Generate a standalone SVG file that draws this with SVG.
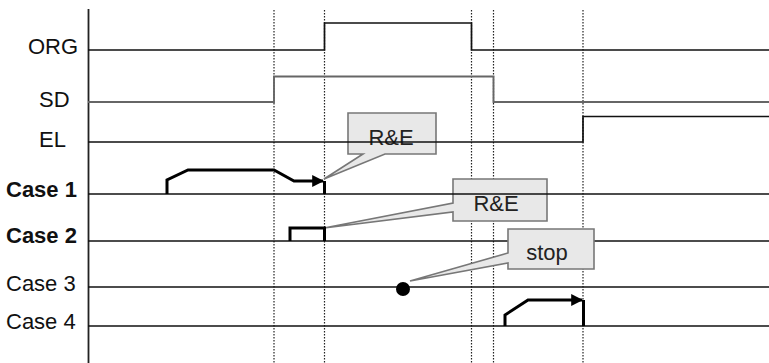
<svg xmlns="http://www.w3.org/2000/svg" width="769" height="363" viewBox="0 0 769 363">
<style>
.lbl{font-family:"Liberation Sans",Arial,sans-serif;font-size:22px;fill:#111}
.b{font-weight:bold}
.sig{fill:none;stroke:#111;stroke-width:1.7}
.sd{fill:none;stroke:#666;stroke-width:1.9}
.dot{stroke:#222;stroke-width:1.2;stroke-dasharray:1.5,1.5}
.wave{fill:none;stroke:#000;stroke-width:3;stroke-linejoin:miter}
.call{fill:#e8e8e8;stroke:#777;stroke-width:1.6}
.ct{font-family:"Liberation Sans",Arial,sans-serif;font-size:22px;fill:#222;text-anchor:middle}
</style>
<defs>
<marker id="ah" viewBox="0 0 10 10" refX="9" refY="5" markerWidth="4" markerHeight="4" orient="auto" markerUnits="strokeWidth">
<path d="M0,0 L10,5 L0,10 Z" fill="#000"/>
</marker>
</defs>
<rect width="769" height="363" fill="#fff"/>
<g id="grid">
<line x1="88.5" y1="9" x2="88.5" y2="363" stroke="#222" stroke-width="1.8"/>
<line class="dot" x1="274" y1="10" x2="274" y2="363"/>
<line class="dot" x1="324.5" y1="10" x2="324.5" y2="363"/>
<line class="dot" x1="471.5" y1="10" x2="471.5" y2="363"/>
<line class="dot" x1="493.5" y1="10" x2="493.5" y2="363"/>
<line class="dot" x1="583" y1="10" x2="583" y2="363"/>
</g>
<g id="labels">
<text class="lbl" x="28" y="54">ORG</text>
<text class="lbl" x="39" y="107">SD</text>
<text class="lbl" x="39" y="147">EL</text>
<text class="lbl b" x="6" y="197">Case 1</text>
<text class="lbl b" x="6" y="243">Case 2</text>
<text class="lbl" x="6" y="291">Case 3</text>
<text class="lbl" x="6" y="329">Case 4</text>
</g>
<g id="baselines-lower">
<line class="sig" x1="88" y1="241" x2="769" y2="241"/>
<line class="sig" x1="88" y1="287" x2="769" y2="287"/>
<line class="sig" x1="88" y1="326" x2="769" y2="326"/>
</g>
<g id="callout-re1">
<path class="call" d="M348,113 H436 V154 H385 L324,179 L363,154 H348 Z"/>
<text class="ct" x="391" y="145">R&amp;E</text>
</g>
<g id="callout-re2">
<path class="call" d="M453,179 H547 V221 H453 V212 L324,228 L453,203 Z"/>
<text class="ct" x="496" y="211">R&amp;E</text>
</g>
<g id="callout-stop">
<path class="call" d="M508,229 H594 V269 H508 V263 L410,281 L508,253 Z"/>
<text class="ct" x="547" y="260">stop</text>
</g>
<g id="signals">
<path class="sig" d="M88,50 H324.5 V23 H471.5 V50 H769"/>
<path class="sd" d="M88,102 H274 V76.5 H493.5 V102 H769"/>
<path class="sig" d="M88,142 H583 V116.5 H769"/>
<line class="sig" x1="88" y1="194" x2="769" y2="194"/>
</g>
<g id="case1">
<path class="wave" d="M167,194 V180 L188,170 H274 L294,181 H323" marker-end="url(#ah)"/>
<line class="wave" x1="324.5" y1="181" x2="324.5" y2="194"/>
</g>
<g id="case2">
<path class="wave" d="M290,241 V228 H324.5 V241"/>
</g>
<g id="case3">
<circle cx="403" cy="289" r="7" fill="#000"/>
</g>
<g id="case4">
<path class="wave" d="M505,326 V315 L528,300 H582" marker-end="url(#ah)"/>
<line class="wave" x1="583.5" y1="300" x2="583.5" y2="326"/>
</g>
</svg>
